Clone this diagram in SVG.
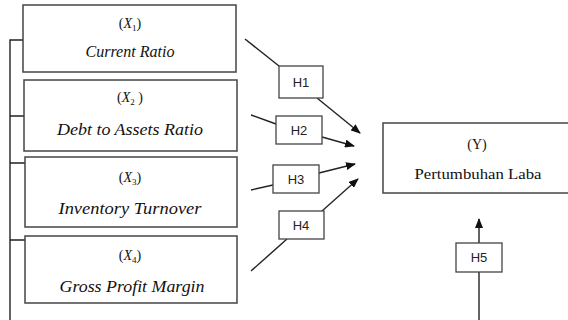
<svg xmlns="http://www.w3.org/2000/svg" width="568" height="320" viewBox="0 0 568 320">
<style>
.box{fill:#fff;stroke:#444;stroke-width:1.5}
.hbox{fill:#fff;stroke:#444;stroke-width:1.3}
.ln{stroke:#222;stroke-width:1.4;fill:none}
.var{font-family:'Liberation Serif','Times New Roman','DejaVu Serif',serif;font-size:14px;fill:#111;text-anchor:middle}
.nm{font-family:'Liberation Serif','Times New Roman','DejaVu Serif',serif;font-size:16.5px;font-style:italic;fill:#111;text-anchor:middle}
.h{font-family:'Liberation Sans',Arial,sans-serif;font-size:13px;fill:#222;text-anchor:middle}
.yt{font-family:'Liberation Serif','Times New Roman','DejaVu Serif',serif;font-size:14px;fill:#111;text-anchor:middle}
</style>
<defs>
<marker id="ah" markerWidth="10" markerHeight="8" refX="9" refY="4" orient="auto" markerUnits="userSpaceOnUse">
<path d="M0,0 L10,4 L0,8 Z" fill="#111"/>
</marker>
</defs>
<g id="connectors">
<path class="ln" d="M10,320 L10,40 L24,40 M10,116 L24,116 M10,163 L25,163 M10,240 L25,240"/>
<path class="ln" d="M245,39 L279,66"/>
<path class="ln" d="M317,98 L360,133" marker-end="url(#ah)"/>
<path class="ln" d="M251,115 L276,124"/>
<path class="ln" d="M322,137 L354,146" marker-end="url(#ah)"/>
<path class="ln" d="M251,190 L273,185"/>
<path class="ln" d="M319,173 L355,164" marker-end="url(#ah)"/>
<path class="ln" d="M251,271 L287,239"/>
<path class="ln" d="M322,211 L358,179" marker-end="url(#ah)"/>
<path class="ln" d="M479,320 L479,272"/>
<path class="ln" d="M479,243 L479,219" marker-end="url(#ah)"/>
</g>
<g id="x1">
<rect class="box" x="23" y="5" width="213" height="67"/>
<text class="var" x="130" y="28">(<tspan font-style="italic">X</tspan><tspan font-size="9" dy="3">1</tspan><tspan dy="-3">)</tspan></text>
<text class="nm" x="130" y="57" font-size="14" textLength="89" lengthAdjust="spacingAndGlyphs">Current Ratio</text>
</g>
<g id="x2">
<rect class="box" x="24" y="80" width="213" height="71"/>
<text class="var" x="130" y="102">(<tspan font-style="italic">X</tspan><tspan font-size="9" dy="3">2</tspan><tspan dy="-3"> )</tspan></text>
<text class="nm" x="130" y="135" textLength="146" lengthAdjust="spacingAndGlyphs">Debt to Assets Ratio</text>
</g>
<g id="x3">
<rect class="box" x="25" y="157" width="212" height="70"/>
<text class="var" x="130" y="182">(<tspan font-style="italic">X</tspan><tspan font-size="9" dy="3">3</tspan><tspan dy="-3">)</tspan></text>
<text class="nm" x="130" y="214" textLength="143" lengthAdjust="spacingAndGlyphs">Inventory Turnover</text>
</g>
<g id="x4">
<rect class="box" x="25" y="236" width="212" height="67"/>
<text class="var" x="130" y="260">(<tspan font-style="italic">X</tspan><tspan font-size="9" dy="3">4</tspan><tspan dy="-3">)</tspan></text>
<text class="nm" x="132" y="292" textLength="145" lengthAdjust="spacingAndGlyphs">Gross Profit Margin</text>
</g>
<g id="y">
<rect class="box" x="383" y="123" width="190" height="70"/>
<text class="yt" x="477" y="149" font-size="13">(Y)</text>
<text class="yt" x="478" y="179" textLength="127" lengthAdjust="spacingAndGlyphs">Pertumbuhan Laba</text>
</g>
<g id="h1">
<rect class="hbox" x="279" y="66" width="44" height="32"/>
<text class="h" x="301" y="87">H1</text>
</g>
<g id="h2">
<rect class="hbox" x="276" y="116" width="46" height="28"/>
<text class="h" x="299" y="135">H2</text>
</g>
<g id="h3">
<rect class="hbox" x="273" y="165" width="46" height="28"/>
<text class="h" x="296" y="184">H3</text>
</g>
<g id="h4">
<rect class="hbox" x="279" y="211" width="45" height="28"/>
<text class="h" x="301" y="230">H4</text>
</g>
<g id="h5">
<rect class="hbox" x="456" y="243" width="46" height="29"/>
<text class="h" x="479" y="262">H5</text>
</g>
</svg>
